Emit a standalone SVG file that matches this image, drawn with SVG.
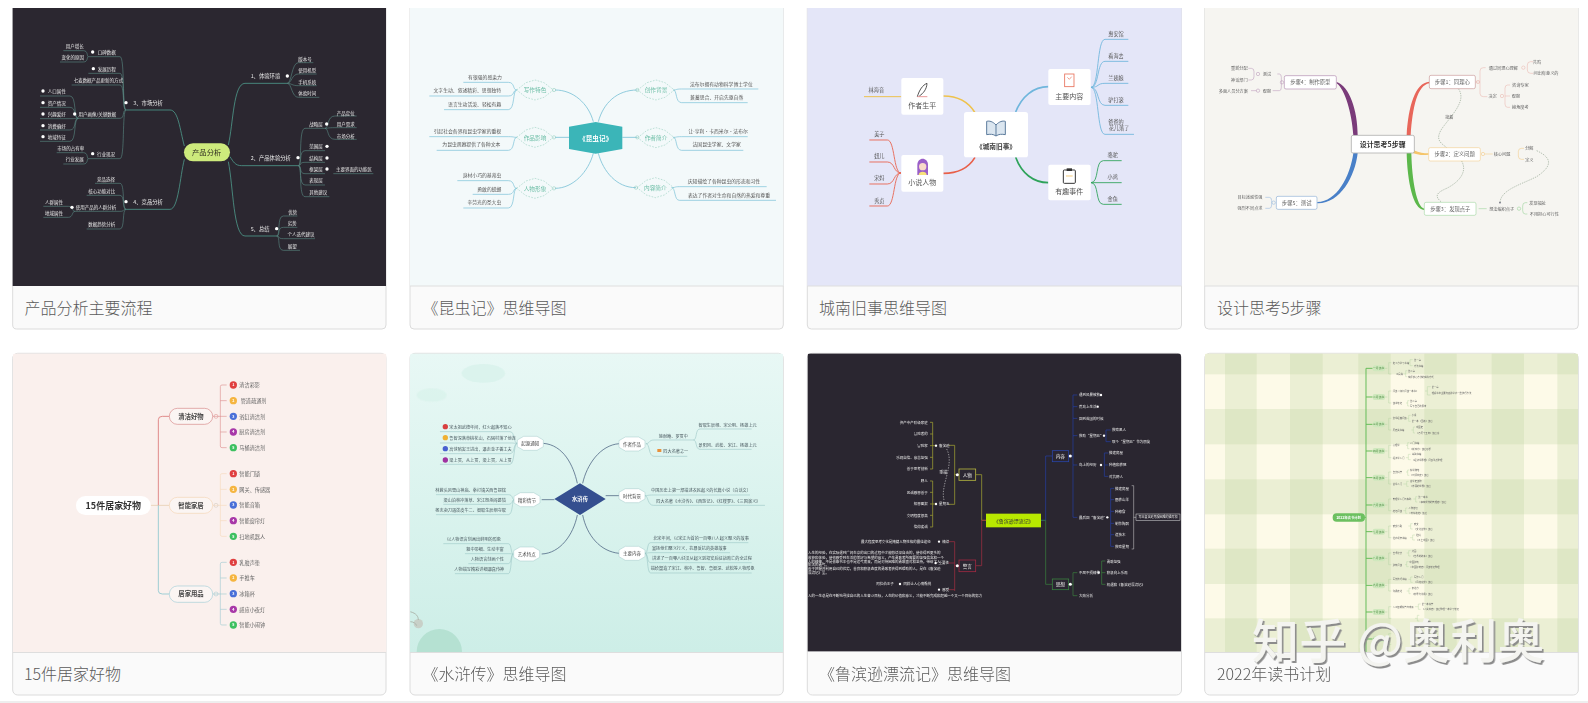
<svg xmlns="http://www.w3.org/2000/svg" width="1588" height="703" viewBox="0 0 1588 703">
<style>
text{font-family:"Noto Sans CJK SC","Noto Sans",sans-serif;dominant-baseline:central}
.c{text-anchor:middle}.e{text-anchor:end}
.b{font-weight:700}
.card{fill:#fafafa;stroke:#dcdcdc;stroke-width:1}
.rule{stroke:#dedede;stroke-width:1}
.cap{font-size:16px;fill:#5a5a5a;font-weight:300;dominant-baseline:auto}
path{fill:none}
.dot{fill:#fff}
.ring{fill:none;stroke-width:1.5}
.mark{font-size:47px;font-weight:500;letter-spacing:.2px}
</style>
<defs>
<filter id="soft" x="-5%" y="-5%" width="110%" height="110%"><feGaussianBlur stdDeviation="1"/></filter>
<filter id="emboss" x="-3%" y="-10%" width="106%" height="130%"><feDropShadow dx="1.6" dy="2" stdDeviation=".3" flood-color="#8c8c8c"/></filter>
<linearGradient id="mint" x1="0" y1="0" x2="0" y2="1"><stop offset="0" stop-color="#e8f8f5"/><stop offset="1" stop-color="#cdeee7"/></linearGradient>
<polygon id="dash-hex" points="-55,0 -27,-22 0,-30 27,-22 55,0 27,22 0,30 -27,22" fill="none" stroke="#8ccbb8" stroke-width="1.6" stroke-dasharray="5 4"/>
<polygon id="tag-hex" points="-39,-10 -20,-21 20,-21 39,-10 39,10 20,21 -20,21 -39,10" fill="#fff" stroke="#a2c8c8" stroke-width="1.5"/>
<clipPath id="k5"><path d="M47,25 H1151 Q1160,25 1160,34 V922 H38 V34 Q38,25 47,25 Z"/></clipPath>
<clipPath id="k6"><path d="M39,25 H1141 Q1150,25 1150,34 V922 H30 V34 Q30,25 39,25 Z"/></clipPath>
<clipPath id="k7"><path d="M31,25 H1134 Q1143,25 1143,34 V920 H22 V34 Q22,25 31,25 Z"/></clipPath>
<clipPath id="k8"><path d="M53,25 H1156 Q1165,25 1165,34 V922 H44 V34 Q44,25 53,25 Z"/></clipPath>
</defs>
<rect width="1588" height="703" fill="#fff"/>

<!-- Row one: product analysis -->
<g id="card-1">
<rect class="card" x="12.7" y="-6" width="373.3" height="335" rx="4"/>
<g transform="scale(.33333)">
<rect x="38" y="24" width="1120" height="834" fill="#2b2730"/>
<g filter="url(#soft)">
<g id="c1-connectors" stroke="#4f9c8d" stroke-width="2.4">
<path d="M685,435 C700,370 700,250 735,250 H862M690,470 C700,485 705,497 725,497 H895M685,485 C700,560 700,708 735,708 H830M553,438 C540,390 535,330 510,330 H378M553,478 C540,530 535,628 510,628 H378"/>
<path stroke-width="1.8" stroke="#5a8c85" d="M862,250 C875,250 875,188 895,188 H940M862,250 C875,250 875,222 895,222 H950M862,250 C875,250 875,257 895,257 H950M862,250 C875,250 875,292 895,292 H958M895,497 C907,497 895,385 915,385 H975M895,497 C907,497 895,452 915,452 H975M895,497 C907,497 895,487 915,487 H975M895,497 C907,497 895,521 915,521 H975M895,497 C907,497 895,555 915,555 H975M895,497 C907,497 895,590 915,590 H988M975,385 C987,385 980,348 1005,348 H1070M975,385 C987,385 980,383 1005,383 H1070M975,385 C987,385 980,418 1005,418 H1070M1000,521 H1120M830,708 C842,708 830,648 850,648 H892M830,708 C842,708 830,682 850,682 H892M830,708 C842,708 830,716 850,716 H945M830,708 C842,708 830,751 850,751 H900M378,330 C366,330 375,170 360,170 H265M378,330 C366,330 375,220 360,220 H265M378,330 C366,330 375,255 360,255 H215M378,330 C366,330 375,355 360,355 H235M378,330 C366,330 375,476 360,476 H265M265,170 C260,170 265,152 250,152 H190M265,170 C260,170 265,186 250,186 H180M235,355 C220,355 230,288 210,288 H120M235,355 C220,355 230,322 210,322 H120M235,355 C220,355 230,356 210,356 H120M235,355 C220,355 230,390 210,390 H120M235,355 C220,355 230,424 210,424 H120M265,476 C260,476 265,458 250,458 H170M265,476 C260,476 265,492 250,492 H190M378,628 C366,628 375,550 360,550 H285M378,628 C366,628 375,586 360,586 H260M378,628 C366,628 375,634 360,634 H225M378,628 C366,628 375,687 360,687 H260M225,634 C215,634 220,619 205,619 H130M225,634 C215,634 220,652 205,652 H130"/>
</g>
<g id="c1-dots" class="dot">
<circle cx="862" cy="228" r="5"/><circle cx="894" cy="473" r="5"/><circle cx="830" cy="686" r="5"/><circle cx="378" cy="308" r="5"/><circle cx="378" cy="605" r="5"/><circle cx="980" cy="372" r="5"/><circle cx="981" cy="439" r="5"/><circle cx="981" cy="474" r="5"/><circle cx="981" cy="507" r="5"/><circle cx="278" cy="156" r="5"/><circle cx="280" cy="206" r="5"/><circle cx="224" cy="342" r="5"/><circle cx="129" cy="273" r="5"/><circle cx="129" cy="308" r="5"/><circle cx="129" cy="342" r="5"/><circle cx="129" cy="377" r="5"/><circle cx="129" cy="410" r="5"/><circle cx="278" cy="461" r="5"/><circle cx="216" cy="622" r="5"/>
</g>
<g id="c1-root"><rect x="552" y="430" width="138" height="54" rx="27" fill="#cdea7c"/><text class="c" x="620" y="456" font-size="22" fill="#2d2a20">产品分析</text></g>
<g id="c1-labels" fill="#e8e8e8" font-size="13.5">
<g font-size="16"><text x="752" y="229">1、体验环境</text><text x="752" y="475">2、产品体验分析</text><text x="752" y="687">5、总结</text><text x="400" y="310">3、市场分析</text><text x="400" y="607">4、竞品分析</text></g>
<text class="c" x="915" y="176">版本号</text><text class="c" x="922" y="211">使用机型</text><text class="c" x="922" y="245">手机系统</text><text class="c" x="922" y="279">体验时间</text>
<text class="c" x="948" y="373">战略层</text><text class="c" x="1037" y="338">产品定位</text><text class="c" x="1037" y="372">用户需求</text><text class="c" x="1037" y="407">市场分析</text><text class="c" x="948" y="439">范围层</text><text class="c" x="948" y="474">结构层</text><text class="c" x="948" y="507">框架层</text><text class="c" x="1062" y="507">主要界面的功能区</text><text class="c" x="948" y="541">表现层</text><text class="c" x="955" y="577">其他建议</text>
<text class="c" x="878" y="635">优势</text><text class="c" x="877" y="668">劣势</text><text class="c" x="903" y="702">个人迭代建议</text><text class="c" x="877" y="737">展望</text>
<text class="c" x="320" y="157">口碑数据</text><text class="c" x="224" y="139">用户增长</text><text class="c" x="218" y="172">变化的原因</text><text class="c" x="320" y="207">发展历程</text><text class="c" x="295" y="241">七麦数据产品更新的方式</text><text class="c" x="292" y="342">用户画像/关键数据</text><text class="c" x="170" y="274">人口属性</text><text class="c" x="170" y="308">资产情况</text><text class="c" x="170" y="342">兴趣爱好</text><text class="c" x="170" y="377">消费偏好</text><text class="c" x="170" y="410">地域特征</text><text class="c" x="318" y="462">行业现况</text><text class="c" x="212" y="444">市场的占有率</text><text class="c" x="224" y="478">行业发展</text>
<text class="c" x="318" y="537">竞品选择</text><text class="c" x="305" y="572">核心功能对比</text><text class="c" x="288" y="621">使用产品的人群分析</text><text class="c" x="162" y="605">人群属性</text><text class="c" x="162" y="638">地域属性</text><text class="c" x="305" y="672">数据趋势分析</text>
</g>
</g>
</g>
<text class="cap" x="24.5" y="314">产品分析主要流程</text>
</g>

<!-- Row one: Souvenirs of an insect world -->
<g id="card-2">
<rect class="card" x="410" y="-6" width="373.3" height="335" rx="4"/>
<g transform="translate(400 0) scale(.33333)">
<rect x="30" y="24" width="1120" height="834" fill="#f3f9fa"/>
<g filter="url(#soft)">
<g id="c2-connectors" stroke="#7fc4d8" stroke-width="2.6">
<path d="M595,365 C610,310 650,270 712,270M667,412 H712M595,460 C610,515 650,563 708,563M580,365 C565,310 520,270 465,270M507,412 H465M580,460 C565,515 520,565 465,565"/>
<path stroke-width="2.2" d="M820,270 C832,270 825,267 845,267 H1075M820,270 C832,270 825,308 845,308 H1043M820,412 C832,412 825,410 845,410 H1043M820,412 C832,412 825,451 845,451 H1030M815,563 C827,563 822,560 838,560 H1100M815,563 C827,563 822,601 838,601 H1128M350,270 C338,270 345,247 325,247 H190M350,270 C338,270 345,288 325,288 H88M350,270 C338,270 345,329 325,329 H132M350,412 C338,412 345,410 325,410 H88M350,412 C338,412 345,451 325,451 H110M350,565 C338,565 345,542 325,542 H172M350,565 C338,565 345,583 325,583 H218M350,565 C338,565 345,624 325,624 H190"/>
</g>
<g id="c2-root"><polygon points="507,380 587,366 667,380 667,447 587,461 507,447" fill="#3ab5b8"/><text class="c b" x="587" y="414" font-size="20" fill="#fff">《昆虫记》</text></g>
<g id="c2-branches" fill="#6fbfa8" font-size="17">
<g id="c2-n1"><use href="#dash-hex" x="768" y="270"/><circle class="ring" cx="712" cy="270" r="5" stroke="#8ccbb8"/><text class="c" x="768" y="270">创作背景</text></g>
<g id="c2-n2"><use href="#dash-hex" x="768" y="413"/><circle class="ring" cx="712" cy="412" r="5" stroke="#8ccbb8"/><text class="c" x="768" y="413">作者简介</text></g>
<g id="c2-n3"><use href="#dash-hex" x="766" y="563"/><circle class="ring" cx="708" cy="563" r="5" stroke="#8ccbb8"/><text class="c" x="766" y="563">内容简介</text></g>
<g id="c2-n4"><use href="#dash-hex" x="405" y="270"/><circle class="ring" cx="462" cy="270" r="5" stroke="#8ccbb8"/><text class="c" x="405" y="270">写作特色</text></g>
<g id="c2-n5"><use href="#dash-hex" x="405" y="412"/><circle class="ring" cx="462" cy="412" r="5" stroke="#8ccbb8"/><text class="c" x="405" y="412">作品影响</text></g>
<g id="c2-n6"><use href="#dash-hex" x="405" y="565"/><circle class="ring" cx="462" cy="565" r="5" stroke="#8ccbb8"/><text class="c" x="405" y="565">人物形象</text></g>
</g>
<g id="c2-leaves" fill="#555" font-size="14.5">
<text class="c" x="964" y="250">法布尔拥有动物科学博士学位</text><text class="c" x="950" y="290">兼蓄思合、开启先驱自然</text><text class="c" x="954" y="393">让-亨利·卡西米尔·法布尔</text><text class="c" x="950" y="432">法国昆虫学家、文学家</text><text class="c" x="972" y="543">庆知描绘了各种昆虫的形态和习性</text><text class="c" x="987" y="583">表达了作者对生命和自然的热爱和尊重</text>
<text class="c" x="255" y="230">有很强的感染力</text><text class="c" x="202" y="270">文字生动、叙述精彩、思想独特</text><text class="c" x="224" y="311">语言生动活泼、轻松有趣</text><text class="c" x="202" y="393">引起社会各界和昆虫学家的重视</text><text class="c" x="214" y="432">为昆虫观察提供了各种文本</text><text class="c" x="246" y="524">身材小巧的基蒂虫</text><text class="c" x="268" y="565">勇敢的蜣螂</text><text class="c" x="253" y="606">辛劳光的圣大虫</text>
</g>
</g>
</g>
<line class="rule" x1="410" y1="286" x2="783.3" y2="286"/>
<text class="cap" x="422.5" y="314">《昆虫记》思维导图</text>
</g>

<!-- Row one: Memories of Peking -->
<g id="card-3">
<rect class="card" x="807.3" y="-6" width="374.2" height="335" rx="4"/>
<g transform="translate(800 0) scale(.33333)">
<rect x="22" y="24" width="1123" height="834" fill="#e4e6f8"/>
<g filter="url(#soft)">
<g id="c3-connectors" stroke-width="5">
<path stroke="#eec24c" d="M430,288 C470,288 505,305 525,338"/>
<path stroke="#e8604a" d="M430,520 C470,520 505,505 525,472"/>
<path stroke="#6fb6dc" d="M745,260 C700,260 665,290 647,336"/>
<path stroke="#2ea35a" d="M745,548 C700,548 665,520 647,472"/>
<path stroke="#eec24c" stroke-width="3" d="M304,290 H192"/>
<path stroke="#e8604a" stroke-width="2.6" d="M303,519 C280,519 285,420 262,420 H208M303,519 C280,519 285,486 262,486 H208M303,519 C280,519 285,552 262,552 H208M303,519 C280,519 285,618 262,618 H208"/>
<path stroke="#6fb6dc" stroke-width="2.6" d="M873,262 C898,262 890,118 915,118 H985M873,262 C898,262 890,184 915,184 H985M873,262 C898,262 890,250 915,250 H985M873,262 C898,262 890,316 915,316 H985M873,262 C898,262 890,403 915,403 H1002"/>
<path stroke="#2ea35a" stroke-width="2.6" d="M873,548 C898,548 885,482 910,482 H965M873,548 H965M873,548 C898,548 885,613 910,613 H965"/>
</g>
<g id="c3-root"><rect x="492" y="336" width="192" height="136" rx="8" fill="#fff"/><path style="fill:#dbe6f0" d="M588,375 C578,364 568,362 560,364 V404 C570,402 580,402 588,408 C596,402 606,402 616,404 V364 C608,362 598,364 588,375 V408" stroke="#5b7a9c" stroke-width="3"/><text class="c b" x="588" y="438" font-size="20" fill="#444">《城南旧事》</text></g>
<g id="c3-n1"><rect x="304" y="234" width="126" height="110" rx="6" fill="#fff"/><path style="fill:#fff" d="M352,290 C358,270 368,255 381,250 C380,268 370,280 358,288" stroke="#333" stroke-width="2.5"/><path d="M352,290 H382" stroke="#d66" stroke-width="2"/><text class="c" x="367" y="315" font-size="21" fill="#555">作者生平</text></g>
<g id="c3-n2"><rect x="304" y="465" width="126" height="110" rx="6" fill="#fff"/><path style="fill:#9a5fc8" d="M352,525 V495 C352,470 384,470 384,495 V525 Z"/><circle cx="368" cy="500" r="11" fill="#f8d9c8"/><path style="fill:#f8e27a" d="M356,525 C356,512 380,512 380,525 Z"/><text class="c" x="367" y="547" font-size="21" fill="#555">小说人物</text></g>
<g id="c3-n3"><rect x="745" y="207" width="127" height="108" rx="6" fill="#fff"/><rect x="794" y="222" width="28" height="38" fill="#fff" stroke="#e8705a" stroke-width="2.5"/><path d="M802,232 L808,238 L815,230" stroke="#e8705a" stroke-width="2"/><text class="c" x="808" y="288" font-size="21" fill="#555">主要内容</text></g>
<g id="c3-n4"><rect x="745" y="494" width="127" height="107" rx="6" fill="#fff"/><rect x="790" y="510" width="36" height="40" rx="3" fill="#fff" stroke="#333" stroke-width="3"/><rect x="800" y="505" width="16" height="8" fill="#333"/><path d="M798,528 H818" stroke="#f0c060" stroke-width="2.5"/><text class="c" x="808" y="574" font-size="21" fill="#555">有趣事件</text></g>
<g id="c3-leaves" fill="#555" font-size="15.5">
<text class="c" x="229" y="270">林海音</text><text class="c" x="238" y="402">美子</text><text class="c" x="238" y="468">妞儿</text><text class="c" x="238" y="534">宋妈</text><text class="c" x="238" y="601">秀贞</text>
<text class="c" x="948" y="100">惠安馆</text><text class="c" x="948" y="166">看海去</text><text class="c" x="948" y="232">兰姨娘</text><text class="c" x="948" y="298">驴打滚</text><text class="c" x="948" y="364">爸爸的</text><text class="c" x="957" y="384">花儿落了</text>
<text class="c" x="938" y="463">骆驼</text><text class="c" x="938" y="529">小鸡</text><text class="c" x="938" y="595">金鱼</text>
</g>
</g>
</g>
<line class="rule" x1="807.3" y1="286" x2="1181.5" y2="286"/>
<text class="cap" x="819" y="314">城南旧事思维导图</text>
</g>

<!-- Row one: five steps of design thinking -->
<g id="card-4">
<rect class="card" x="1204.7" y="-6" width="373.6" height="335" rx="4"/>
<g transform="translate(1190 0) scale(.33333)">
<rect x="44" y="24" width="1121" height="834" fill="#f6f5f1"/>
<g filter="url(#soft)">
<g id="c4-connectors">
<path style="fill:#e8665a" d="M650,406 C655,320 675,248 718,245 L718,250 C682,256 668,320 662,406 Z"/>
<path style="fill:#f5c56a" d="M670,450 C690,458 700,460 716,460 L716,464 C700,466 688,466 670,460 Z"/>
<path style="fill:#5cb84c" d="M664,460 C666,540 680,622 703,626 L703,630 C668,630 652,540 650,460 Z"/>
<path style="fill:#7a3a7a" d="M490,406 C486,340 465,268 440,250 L440,246 C478,258 503,330 503,406 Z"/>
<path style="fill:#4a80c8" d="M490,460 C480,530 440,606 382,606 L382,610 C450,612 495,530 503,460 Z"/>
<g stroke-width="1.5">
<path stroke="#e8b0a8" d="M887,203 H880 Q870,203 870,213 V280 Q870,290 880,290 H892M857,246 H870M1030,185 H1022 Q1012,185 1012,195 V210 Q1012,220 1022,220 H1030M960,255 H953 Q945,255 945,265 V312 Q945,322 953,322 H960M945,288 H960"/>
<path stroke="#f0c478" d="M1002,445 H994 Q985,445 985,455 V468 Q985,478 994,478 H1002M885,462 H908"/>
<path stroke="#8ccf8c" d="M1012,608 H1006 Q998,608 998,618 V632 Q998,642 1006,642 H1012M866,626 H890"/>
<path stroke="#b590b5" d="M262,222 H268 Q274,222 274,232 V262 Q274,272 268,272 H248M175,205 H184 Q192,205 192,215 V230 Q192,240 184,240 H175M183,272 H200"/>
<path stroke="#8ab0dc" d="M226,592 H238 Q245,592 245,602 V615 Q245,625 238,625 H226"/>
</g>
<g stroke="#7b9278" stroke-width="1.6" stroke-dasharray="4 3">
<path d="M805,266 C830,300 790,340 760,380 C730,420 755,430 770,443"/>
<path d="M815,483 C835,520 800,550 770,565 C735,580 735,590 755,607"/>
<path d="M1040,452 C1090,475 1085,500 1040,530 C990,555 930,570 930,610"/>
</g>
<circle cx="930" cy="608" r="2.5" fill="#667"/>
</g>
<g id="c4-root"><rect x="484" y="406" width="189" height="53" rx="5" fill="#fff" stroke="#888" stroke-width="1.6"/><text class="c b" x="578" y="433" font-size="21" fill="#333">设计思考5步骤</text></g>
<g id="c4-nodes" fill="#666" font-size="16">
<g id="c4-n1"><rect x="718" y="226" width="138" height="40" rx="5" fill="#fff" stroke="#b87878" stroke-width="1.5"/><circle class="ring" cx="864" cy="246" r="5" stroke="#e8b0a8"/><text class="c" x="787" y="246">步骤1：同理心</text></g>
<g id="c4-n2"><rect x="716" y="443" width="155" height="40" rx="5" fill="#fff" stroke="#f0c478" stroke-width="1.5"/><circle class="ring" cx="879" cy="462" r="5" stroke="#f0c478"/><text class="c" x="794" y="463">步骤2：定义问题</text></g>
<g id="c4-n3"><rect x="703" y="607" width="155" height="39" rx="5" fill="#fff" stroke="#8ccf8c" stroke-width="1.5"/><text class="c" x="781" y="627">步骤3：发现点子</text></g>
<g id="c4-n4"><rect x="283" y="227" width="156" height="40" rx="5" fill="#fff" stroke="#9a6a9a" stroke-width="1.5"/><circle class="ring" cx="276" cy="247" r="5" stroke="#b590b5"/><text class="c" x="361" y="247">步骤4：制作原型</text></g>
<g id="c4-n5"><rect x="259" y="589" width="122" height="39" rx="5" fill="#fff" stroke="#6a96c8" stroke-width="1.5"/><circle class="ring" cx="251" cy="608" r="5" stroke="#8ab0dc"/><text class="c" x="320" y="609">步骤5：测试</text></g>
</g>
<g id="c4-leaves" fill="#666" font-size="12.5">
<circle class="ring" cx="1000" cy="203" r="5" stroke="#e8b0a8"/><circle class="ring" cx="936" cy="288" r="5" stroke="#e8b0a8"/><circle class="ring" cx="987" cy="626" r="5" stroke="#8ccf8c"/><circle class="ring" cx="204" cy="222" r="5" stroke="#b590b5"/><circle class="ring" cx="204" cy="272" r="5" stroke="#b590b5"/>
<text class="c" x="940" y="203">通过同理心理解</text><text class="c" x="908" y="288">决定</text><text class="c" x="1041" y="186">共鸣</text><text class="c" x="1068" y="220">问出有意义的</text><text class="c" x="991" y="255">咨询专家</text><text class="c" x="978" y="288">观察</text><text class="c" x="991" y="322">换角度考</text>
<text class="c" x="936" y="462">核心问题</text><text class="c" x="1018" y="444">分解</text><text class="c" x="1018" y="479">定义</text><text class="c" x="778" y="352">接着</text>
<text class="c" x="935" y="626">想法编织点子</text><text class="c" x="1043" y="608">发现福祉</text><text class="c" x="1063" y="642">不用担心可行性</text>
<text class="c" x="231" y="222">测试</text><text class="c" x="231" y="272">观察</text><text class="c" x="148" y="205">重新分配</text><text class="c" x="148" y="240">神话部门</text><text class="c" x="130" y="272">多面人员分方案</text>
<text class="c" x="180" y="591">目标迷惑性强</text><text class="c" x="180" y="625">强烈不同点求</text>
</g>
</g>
</g>
<line class="rule" x1="1204.7" y1="286" x2="1578.3" y2="286"/>
<text class="cap" x="1217" y="314">设计思考5步骤</text>
</g>

<!-- Row two: fifteen household picks -->
<g id="card-5">
<rect class="card" x="12.7" y="353.3" width="373.3" height="341.7" rx="5"/>
<g transform="translate(0 345) scale(.33333)">
<g clip-path="url(#k5)">
<rect x="38" y="25" width="1122" height="897" fill="#faf0ed"/>
</g>
<g filter="url(#soft)">
<g id="c5-connectors">
<path stroke="#e3c9a8" stroke-width="2.2" d="M452,481 H510"/>
<path stroke="#dc7a7a" stroke-width="2.6" d="M475,481 V224 Q475,214 487,214 H510"/>
<path stroke="#8fc8d0" stroke-width="2.6" d="M475,481 V737 Q475,747 487,747 H510"/>
<path stroke="#dc8a8a" stroke-width="1.8" d="M638,214 H680M680,120 H666 Q661,120 661,125 V303 Q661,308 666,308 H680M661,167 H680M661,261 H680"/>
<path stroke="#f5d8b8" stroke-width="1.8" d="M638,481 H680M680,386 H666 Q661,386 661,391 V569 Q661,574 666,574 H680M661,433 H680M661,527 H680"/>
<path stroke="#9cc8d0" stroke-width="1.8" d="M638,747 H680M680,652 H666 Q661,652 661,657 V835 Q661,840 666,840 H680M661,699 H680M661,793 H680"/>
</g>
<g id="c5-root"><rect x="228" y="453" width="224" height="57" rx="28" fill="#fff"/><text class="c b" x="340" y="481" font-size="27" fill="#333">15件居家好物</text></g>
<g id="c5-n1"><rect x="508" y="190" width="130" height="48" rx="24" fill="#fbf5f3" stroke="#d88a8a" stroke-width="2"/><circle class="ring" cx="648" cy="214" r="6" fill="#faf0ed" stroke="#dc8a8a"/><text class="c b" x="573" y="215" font-size="19" fill="#444">清洁好物</text></g>
<g id="c5-n2"><rect x="508" y="457" width="130" height="48" rx="24" fill="#fbf5f3" stroke="#f5d5b5" stroke-width="2"/><circle class="ring" cx="648" cy="481" r="6" stroke="#cfc4b8"/><text class="c b" x="573" y="481" font-size="19" fill="#444">智能家居</text></g>
<g id="c5-n3"><rect x="508" y="723" width="130" height="49" rx="24" fill="#fbf5f3" stroke="#a5cfd8" stroke-width="2"/><circle class="ring" cx="648" cy="747" r="6" stroke="#9cc8d0"/><text class="c b" x="573" y="747" font-size="19" fill="#444">居家用品</text></g>
<g id="c5-badges" font-size="11" font-weight="700">
<g fill="#e04040"><circle cx="700" cy="120" r="11"/><circle cx="700" cy="386" r="11"/><circle cx="700" cy="652" r="11"/></g>
<g fill="#f5b53f"><circle cx="700" cy="167" r="11"/><circle cx="700" cy="433" r="11"/><circle cx="700" cy="699" r="11"/></g>
<g fill="#4a6fd8"><circle cx="700" cy="214" r="11"/><circle cx="700" cy="480" r="11"/><circle cx="700" cy="746" r="11"/></g>
<g fill="#a838a8"><circle cx="700" cy="261" r="11"/><circle cx="700" cy="527" r="11"/><circle cx="700" cy="793" r="11"/></g>
<g fill="#3cc060"><circle cx="700" cy="308" r="11"/><circle cx="700" cy="574" r="11"/><circle cx="700" cy="840" r="11"/></g>
<g fill="#fff"><text class="c" x="700" y="120">1</text><text class="c" x="700" y="167">2</text><text class="c" x="700" y="214">3</text><text class="c" x="700" y="261">4</text><text class="c" x="700" y="308">5</text><text class="c" x="700" y="386">1</text><text class="c" x="700" y="433">2</text><text class="c" x="700" y="480">3</text><text class="c" x="700" y="527">4</text><text class="c" x="700" y="574">5</text><text class="c" x="700" y="652">1</text><text class="c" x="700" y="699">2</text><text class="c" x="700" y="746">3</text><text class="c" x="700" y="793">4</text><text class="c" x="700" y="840">5</text></g>
</g>
<g id="c5-leaves" fill="#666" font-size="15.5">
<text x="718" y="120">清洁彩影</text><text x="722" y="167">管道疏通剂</text><text x="718" y="214">浴缸清洁剂</text><text x="718" y="261">厨房清洁剂</text><text x="718" y="308">马桶清洁剂</text>
<text x="718" y="386">智能门锁</text><text x="718" y="433">网关、传感器</text><text x="718" y="480">智能音箱</text><text x="718" y="527">智能窗帘灯</text><text x="718" y="574">扫地机器人</text>
<text x="718" y="652">乳胶声垫</text><text x="718" y="699">手推车</text><text x="718" y="746">冰箱杯</text><text x="718" y="793">感应小夜灯</text><text x="718" y="840">智能小闹钟</text>
</g>
</g>
</g>
<line class="rule" x1="12.7" y1="652.5" x2="386" y2="652.5"/>
<text class="cap" x="24" y="680">15件居家好物</text>
</g>

<!-- Row two: Water Margin -->
<g id="card-6">
<rect class="card" x="410" y="353.3" width="373.3" height="341.7" rx="5"/>
<g transform="translate(400 345) scale(.33333)">
<g clip-path="url(#k6)">
<rect x="30" y="25" width="1120" height="897" fill="url(#mint)"/>
<g filter="url(#soft)">
<ellipse cx="250" cy="85" rx="65" ry="28" fill="#d6f1ea" opacity=".7"/>
<ellipse cx="95" cy="150" rx="45" ry="20" fill="#d6f1ea" opacity=".6"/>
<circle cx="118" cy="920" r="68" fill="#b5e1d2"/>
<circle cx="55" cy="836" r="14" fill="#c8d0c8"/>
<path stroke="#aeb8ae" stroke-width="3" d="M30,800 C50,805 55,815 55,825M30,830 C40,830 48,835 50,842"/>
<g id="c6-connectors" stroke="#445c7c" stroke-width="2.2">
<path d="M548,415 C560,360 600,300 658,296M617,452 H658M548,510 C560,570 600,620 658,625M532,415 C520,360 490,300 430,295M463,464 H425M532,510 C520,570 480,625 425,627"/>
<path stroke="#93c0c0" stroke-width="1.6" d="M738,296 C750,296 745,285 762,285 H880M738,296 C750,296 745,334 762,334 H862M880,285 C892,285 885,252 900,252 H1055M880,285 C892,285 885,313 900,313 H1055M735,452 C745,452 742,450 760,450 H1050M735,452 C745,452 742,481 760,481 H1095M735,625 C745,625 740,593 752,593 H1045M735,625 C745,625 740,623 752,623 H990M735,625 C745,625 740,653 752,653 H1055M735,625 C745,625 740,684 752,684 H1055M352,295 C340,295 345,260 330,260 H120M352,295 C340,295 345,294 330,294 H120M352,295 C340,295 345,326 330,326 H120M352,295 C340,295 345,358 330,358 H120M343,464 C335,464 340,449 325,449 H108M343,464 C335,464 340,478 325,478 H130M343,464 C335,464 340,509 325,509 H108M340,627 C332,627 335,596 325,596 H130M340,627 C332,627 335,626 325,626 H195M340,627 C332,627 335,656 325,656 H205M340,627 C332,627 335,686 325,686 H165"/>
</g>
<g id="c6-root"><polygon points="463,462 540,415 617,462 540,510" fill="#34508f"/><text class="c b" x="540" y="462" font-size="16" fill="#fff">水浒传</text></g>
<g id="c6-branches" fill="#444" font-size="13.5">
<g id="c6-n1"><use href="#tag-hex" x="696" y="297"/><text class="c" x="696" y="297">作者作品</text></g>
<g id="c6-n2"><use href="#tag-hex" x="696" y="452"/><text class="c" x="696" y="452">时代背景</text></g>
<g id="c6-n3"><use href="#tag-hex" x="696" y="625"/><text class="c" x="696" y="625">主要内容</text></g>
<g id="c6-n4"><use href="#tag-hex" x="391" y="295"/><text class="c" x="391" y="295">起源通知</text></g>
<g id="c6-n5"><use href="#tag-hex" x="381" y="464"/><text class="c" x="381" y="464">精彩情节</text></g>
<g id="c6-n6"><use href="#tag-hex" x="380" y="627"/><text class="c" x="380" y="627">艺术特点</text></g>
</g>
<g id="c6-leaves" fill="#4a5a60" font-size="12.5">
<rect x="772" y="312" width="12" height="9" fill="#e8903a"/>
<circle cx="136" cy="245" r="8" fill="#d84040"/><circle cx="136" cy="278" r="8" fill="#f0b030"/><circle cx="136" cy="311" r="8" fill="#4a60d0"/><circle cx="136" cy="345" r="8" fill="#a030a0"/>
<text class="c" x="820" y="272">施耐庵、罗贯中</text><text x="790" y="319">四大名著之一</text><text class="c" x="983" y="239">智取生辰纲、宋公明、杨雄上元</text><text class="c" x="983" y="300">景阳冈、武松、宋江、杨雄上元</text>
<text class="c" x="903" y="436">中国历史上第一部描述农民起义的长篇小说（白话文）</text><text class="c" x="925" y="467">四大名著《水浒传》、《西游记》、《红楼梦》、《三国演义》</text>
<text class="c" x="903" y="579">北宋年间，以宋江为首的一百零八人起义聚义的故事</text><text class="c" x="868" y="609">宣扬他们聚义行义，抗暴反抗的英雄故事</text><text class="c" x="906" y="639">讲述了一百零八好汉从起义到招安后征战败亡的全过程</text><text class="c" x="908" y="670">描绘塑造了宋江、林冲、鲁智、鲁智深、武松等人物形象</text>
<text x="148" y="245">宋太祖武德年间，红火起落不知心</text><text x="148" y="278">鲁智深落草桃花山，石碣村落了他连</text><text x="148" y="311">高俅陷害王进出，逼走金子善工夫</text><text x="148" y="345">梁上贯，从上贯，梁上贯，从上贯</text>
<text class="c" x="212" y="434">林教头风雪山神庙、拳打镇关西鲁提辖</text><text class="c" x="224" y="465">梁山泊林冲落草、宋江怒杀阎婆惜</text><text class="c" x="212" y="495">杨志卖刀遇泼皮牛二、智取生辰纲夺取</text>
<text class="c" x="222" y="582">以人物语言刻画出鲜明的形象</text><text class="c" x="255" y="612">粗中带细、生动丰富</text><text class="c" x="262" y="642">人物语言刻画个性</text><text class="c" x="238" y="672">人物描写精彩详细逼真传神</text>
</g>
</g>
</g>
</g>
<line class="rule" x1="410" y1="652.5" x2="783.3" y2="652.5"/>
<text class="cap" x="422.5" y="680">《水浒传》思维导图</text>
</g>

<!-- Row two: Robinson Crusoe -->
<g id="card-7">
<rect class="card" x="807.3" y="353.3" width="374.2" height="341.7" rx="5"/>
<g transform="translate(800 345) scale(.33333)">
<g clip-path="url(#k7)">
<rect x="22" y="25" width="1121" height="895" fill="#2a2630"/>
<g filter="url(#soft)">
<g id="c7-connectors" stroke-width="2.2">
<path stroke="#a0a030" d="M558,526 H545 V389 H528M464,301 V478M446,301 H464M446,478 H464M464,389 H476M398,232 V372M390,232 H398M390,267 H398M390,302 H408M390,337 H398M390,372 H398M398,408 V546M390,408 H398M390,442 H398M390,477 H408M390,511 H398M390,546 H398"/>
<path stroke="#9c2c42" d="M558,526 H545 V662 H528M464,590 V738M446,590 H464M446,654 H464M446,734 H464M464,662 H476"/>
<path stroke="#243c9c" d="M723,526 H737 V333 H757M819,150 V517M819,333 H811M819,150 H832M819,185 H832M819,220 H832M819,272 H832M819,360 H832M819,517 H832M918,255 V290M918,255 H932M918,290 H932M913,324 V394M913,324 H925M913,360 H925M913,394 H925M932,430 V604M932,430 H942M932,464 H942M932,499 H942M932,535 H942M932,569 H942M932,604 H942"/>
<path stroke="#3a7a3e" d="M723,526 H737 V718 H757M819,683 V752M819,718 H811M819,683 H832M819,752 H832M905,648 V718M905,648 H916M905,683 H916M905,718 H916"/>
<path stroke="#ddd" stroke-width="1.5" d="M1001,422 V612M995,422 H1001M995,612 H1001M1001,517 H1008"/>
<path stroke="#ddd" stroke-width="1.8" stroke-dasharray="4 4" d="M440,312 C465,360 420,420 432,465"/>
</g>
<g id="c7-root"><rect x="558" y="506" width="165" height="41" fill="#b8e800"/><text class="c" x="641" y="526" font-size="15" fill="#333">《鲁滨逊漂流记》</text></g>
<g id="c7-branches" fill="#eee" font-size="14">
<g id="c7-n1"><rect x="477" y="372" width="50" height="34" fill="#2a2630" stroke="#b8b840" stroke-width="2.4"/><circle cx="472" cy="389" r="4.5" fill="#fff"/><text class="c" x="502" y="389">人物</text></g>
<g id="c7-n2"><rect x="477" y="645" width="50" height="35" fill="#2a2630" stroke="#a02c42" stroke-width="2.4"/><circle cx="472" cy="662" r="4.5" fill="#fff"/><text class="c" x="502" y="662">警言</text></g>
<g id="c7-n3"><rect x="757" y="317" width="49" height="33" fill="#2a2630" stroke="#2a44a8" stroke-width="2.4"/><circle cx="811" cy="333" r="4.5" fill="#fff"/><text class="c" x="781" y="333">内容</text></g>
<g id="c7-n4"><rect x="757" y="702" width="49" height="32" fill="#2a2630" stroke="#3a8040" stroke-width="2.4"/><circle cx="811" cy="718" r="4.5" fill="#fff"/><text class="c" x="781" y="718">思想</text></g>
</g>
<g id="c7-leaves" fill="#eaeaea" font-size="10.5">
<g fill="#fff"><circle cx="408" cy="302" r="3.5"/><circle cx="408" cy="477" r="3.5"/><circle cx="417" cy="590" r="3.5"/><circle cx="407" cy="654" r="3.5"/><circle cx="417" cy="734" r="3.5"/><circle cx="300" cy="717" r="3.5"/><circle cx="903" cy="150" r="3.5"/><circle cx="893" cy="185" r="3.5"/><circle cx="912" cy="272" r="3.5"/><circle cx="903" cy="360" r="3.5"/><circle cx="922" cy="517" r="3.5"/><circle cx="896" cy="683" r="3.5"/></g>
<text class="c" x="433" y="302">鲁滨逊</text><text class="c" x="433" y="477">星期五</text><text class="c" x="430" y="381" font-size="12">重描</text>
<text class="e" x="383" y="233">资产中产阶级家庭</text><text class="e" x="383" y="267">冒险者的</text><text class="e" x="383" y="302">冒险家</text><text class="e" x="383" y="337">乐观自信、意志坚强</text><text class="e" x="383" y="372">善于思考创新</text><text class="e" x="383" y="408">野人</text><text class="e" x="383" y="442">忠诚感恩善于</text><text class="e" x="383" y="477">知恩图报</text><text class="e" x="383" y="511">文明程度很高</text><text class="e" x="383" y="546">信仰虔诚</text>
<text class="c" x="437" y="590">精读</text><text class="c" x="431" y="654">重要性</text><text class="c" x="437" y="734">感受</text>
<text class="e" x="392" y="590">最大程度思考文化是掩藏人物性格的最佳途径</text>
<text x="24" y="624">人生的经验，在实际遇到广阔生命的出口的过程中才能够读深自由的，使你得到更多的</text>
<text x="24" y="637">收获和体验，使他感受到生活的美好与希望的意义，产生勇敢者所需要的坚强信念和一个</text>
<text x="24" y="649">人的精神，不是依靠书本也不是运气而来，而是对待困难的勇敢面对和坚持，带给了人</text>
<text x="24" y="659">生活的勇气。</text>
<text x="24" y="671">善于把握并利用自己的优势，善良和积极态度的勇敢者会得到帮助的人，是在《鲁滨逊</text>
<text x="24" y="684">漂流记》里。</text>
<text class="c" x="255" y="717">阿拉伯王子</text><text class="c" x="352" y="717">同样让人心情愉悦</text>
<text x="24" y="752">人的一生总是在不断地寻找自己的人生奋斗目标，人生的价值和意义，才能不断完成和超越一个又一个目标的努力</text>
<text x="837" y="150">遇到风暴被救</text><text x="837" y="185">荒岛上生活</text><text x="837" y="220">回到英国的时候</text><text x="837" y="272">救助“星期五”</text><text x="936" y="255">救赎黑人</text><text x="936" y="290">取个“星期五”作为朋友</text>
<text x="837" y="360">岛上的经历</text><text x="927" y="324">搭建房屋</text><text x="927" y="360">种植和养殖</text><text x="927" y="394">对抗野人</text>
<text x="837" y="517">最后回“鲁滨逊”</text><text x="945" y="430">搭建房屋</text><text x="945" y="464">圈养山羊</text><text x="945" y="499">种粮食</text><text x="945" y="535">制作陶器</text><text x="945" y="569">造独木</text><text x="945" y="604">救赎星期</text>
<text x="837" y="683">不屈不挠精神</text><text x="920" y="649">勇敢坚强</text><text x="920" y="683">积极向上乐观</text><text x="920" y="718">机遇和《鲁滨逊漂流记》</text><text x="837" y="752">大致分析</text>
</g>
<g id="c7-note"><rect x="1008" y="507" width="132" height="20" fill="#2a2630" stroke="#eee" stroke-width="1.4"/><text class="c" x="1074" y="517" font-size="9" fill="#eee">写出鲁滨逊克服困难的描写和</text></g>
</g></g>
</g>
<text class="cap" x="819" y="680">《鲁滨逊漂流记》思维导图</text>
</g>

<!-- Row two: 2022 reading plan, plaid backdrop -->
<g id="card-8">
<rect class="card" x="1204.7" y="353.3" width="373.6" height="341.7" rx="5"/>
<g transform="translate(1190 345) scale(.33333)">
<g clip-path="url(#k8)">
<rect x="44" y="25" width="1121" height="897" fill="#fdfae8"/>
<g fill="#b9cf9c" fill-opacity=".26">
<rect x="44" y="25" width="1121" height="63"/><rect x="44" y="192" width="1121" height="106"/><rect x="44" y="403" width="1121" height="105"/><rect x="44" y="611" width="1121" height="106"/><rect x="44" y="820" width="1121" height="102"/>
<rect x="105" y="25" width="95" height="897"/><rect x="300" y="25" width="98" height="897"/><rect x="505" y="25" width="97" height="897"/><rect x="703" y="25" width="97" height="897"/><rect x="905" y="25" width="97" height="897"/><rect x="1102" y="25" width="63" height="897"/>
</g>
<g filter="url(#soft)">
<g id="c8-connectors">
<path stroke="#66bc58" stroke-width="3" d="M524,517 H528M528,922 V70 H548M528,156 H548M528,238 H548M528,318 H548M528,398 H548M528,480 H548M528,560 H548M528,640 H548M528,721 H548M528,801 H548M528,882 H548"/>
<path stroke="#a5cc94" stroke-width="1" d="M585,70 H592 M596,53 V87 H604 M596,53 H604M655,53 H660V44H668M660,53V62H668M640,87 H647V77H652M647,87V95H652M585,156 H592M596,138 V174 H604M596,138 H604M705,138 H712V125H722M712,138V150H722M648,174 H653V167H658M653,174V183H658M585,238 H592M596,220 V255 H604M596,220 H604M650,220 H656V211H662M656,220V229H662M664,255 H670V246H675M670,255V264H675M585,318 H592M596,301 V338 H604M596,301 H604M648,301 H653V293H658M653,301V311H658M648,338 H655V328H662M655,338V344H662M585,398 H592M596,381 V417 H604M596,381 H604M648,381 H653V375H658M653,381V391H658M640,417 H650V409H656M650,417V424H656M585,480 H592M596,462 V497 H604M596,462 H604M670,462 H677V455H682M677,462V471H682M640,497 H647V489H652M647,497V505H652M585,560 H592M596,543 V578 H604M596,543 H604M655,543 H662V536H668M662,543V552H668M660,578 H668V570H675M668,578V585H675M585,640 H592M596,624 V659 H604M596,624 H604M650,624 H656V617H662M656,624V633H662M645,659 H650V650H656M650,659V665H656M585,721 H592M596,703 V738 H604M596,703 H604M655,703 H662V696H668M662,703V712H668M650,738 H657V730H662M657,738V746H662M585,801 H592M596,785 V820 H604M596,785 H604M675,785 H685V777H692M685,785V793H692M675,820 H682V811H688M682,820V828H688M585,882 H592M596,866 V898 H604M596,866 H604"/>
</g>
<g id="c8-root"><rect x="428" y="505" width="97" height="25" rx="12" fill="#6cc060"/><text class="c b" x="476" y="517" font-size="10" fill="#fff">2022年读书计划</text></g>
<g id="c8-months" font-size="8.5" fill="#4f8f45">
<g id="c8-m1"><rect x="548" y="61" width="37" height="18" rx="6" fill="#cfe8bd"/><text class="c" x="566" y="70">一月读书</text></g>
<g id="c8-m2"><rect x="548" y="147" width="37" height="18" rx="6" fill="#cfe8bd"/><text class="c" x="566" y="156">二月读书</text></g>
<g id="c8-m3"><rect x="548" y="229" width="37" height="18" rx="6" fill="#cfe8bd"/><text class="c" x="566" y="238">三月读书</text></g>
<g id="c8-m4"><rect x="548" y="309" width="37" height="18" rx="6" fill="#cfe8bd"/><text class="c" x="566" y="318">四月读书</text></g>
<g id="c8-m5"><rect x="548" y="389" width="37" height="18" rx="6" fill="#cfe8bd"/><text class="c" x="566" y="398">五月读书</text></g>
<g id="c8-m6"><rect x="548" y="471" width="37" height="18" rx="6" fill="#cfe8bd"/><text class="c" x="566" y="480">六月读书</text></g>
<g id="c8-m7"><rect x="548" y="551" width="37" height="18" rx="6" fill="#cfe8bd"/><text class="c" x="566" y="560">七月读书</text></g>
<g id="c8-m8"><rect x="548" y="631" width="37" height="18" rx="6" fill="#cfe8bd"/><text class="c" x="566" y="640">八月读书</text></g>
<g id="c8-m9"><rect x="548" y="712" width="37" height="18" rx="6" fill="#cfe8bd"/><text class="c" x="566" y="721">九月读书</text></g>
<g id="c8-m10"><rect x="548" y="792" width="37" height="18" rx="6" fill="#cfe8bd"/><text class="c" x="566" y="801">十月读书</text></g>
<g id="c8-m11"><rect x="548" y="873" width="37" height="18" rx="6" fill="#cfe8bd"/><text class="c" x="566" y="882" font-size="7">十一月读书</text></g>
</g>
<g id="c8-books" fill="#666" font-size="7">
<text x="608" y="53">定义力学习书籍</text><text x="618" y="87">工具类</text><text x="672" y="44">第一章</text><text x="672" y="62">方法书籍</text><text x="654" y="77">第二章</text><text x="654" y="95">掌握核心方法的实践方式</text>
<text x="608" y="138">阅读《如何阅读一本书》</text><text x="725" y="125">第一章</text><text x="725" y="143">理解书中主要内容并学会一些技巧方法</text><text x="608" y="174">读书笔记</text><text x="660" y="167">第二章</text><text x="660" y="183">写下自己的思考</text>
<text x="608" y="220">文学经典阅读</text><text x="665" y="211">小说</text><text x="665" y="229">第一本《围城》读后</text><text x="608" y="255">历史类书籍</text><text x="678" y="246">中国史</text><text x="678" y="264">《万历十五年》读后感</text>
<text x="608" y="301">心理学</text><text x="660" y="293">入门书籍</text><text x="660" y="311">《影响力》读后感想</text><text x="608" y="338">经济学入门</text><text x="666" y="328">基础书籍</text><text x="666" y="344">《经济学原理》阅读重点整理</text>
<text x="608" y="381">自然科普</text><text x="660" y="375">科学随笔</text><text x="660" y="391">《时间简史》读后</text><text x="608" y="417">哲学入门</text><text x="660" y="409">哲学史读物</text><text x="660" y="424">《苏菲的世界》读后</text>
<text x="608" y="462">管理学入门与实践</text><text x="685" y="455">第一本书</text><text x="685" y="471">《卓有成效的管理者》读后</text><text x="608" y="497">传记阅读</text><text x="655" y="489">人物传记</text><text x="655" y="505">《苏东坡传》读后</text>
<text x="608" y="543">散文诗歌</text><text x="672" y="536">散文</text><text x="672" y="552">《文化苦旅》读后</text><text x="608" y="578">社会观察书籍</text><text x="678" y="570">社科</text><text x="678" y="585">《乡土中国》读后</text>
<text x="608" y="624">艺术欣赏</text><text x="665" y="617">绘画</text><text x="665" y="633">《艺术的故事》读后</text><text x="608" y="659">建筑阅读</text><text x="658" y="650">中国建筑</text><text x="658" y="665">《中国建筑史》阅读笔记整理</text>
<text x="608" y="703">写作技巧书籍</text><text x="672" y="696">写作入门</text><text x="672" y="712">《风格感觉》读后</text><text x="608" y="738">沟通表达</text><text x="665" y="730">表达力</text><text x="665" y="746">《非暴力沟通》读后</text>
<text x="608" y="785">人工智能科普与未来</text><text x="695" y="777">第一本科普</text><text x="695" y="793">《人类简史》读后整理一本学习笔记</text>
</g>
</g>
</g>
</g>
<line class="rule" x1="1204.7" y1="652.5" x2="1578.3" y2="652.5"/>
<text class="cap" x="1217" y="680">2022年读书计划</text>
</g>

<!-- Site signature laid over the last card -->
<g id="signature" class="mark">
<text x="1252" y="637" fill="#f4f4f0" filter="url(#emboss)">知乎 @奥利奥</text>
</g>

<rect id="cover" x="0" y="0" width="1588" height="8" fill="#fff"/>
<rect id="page-rule" x="0" y="701" width="1588" height="2" fill="#eeeeee"/>
</svg>
